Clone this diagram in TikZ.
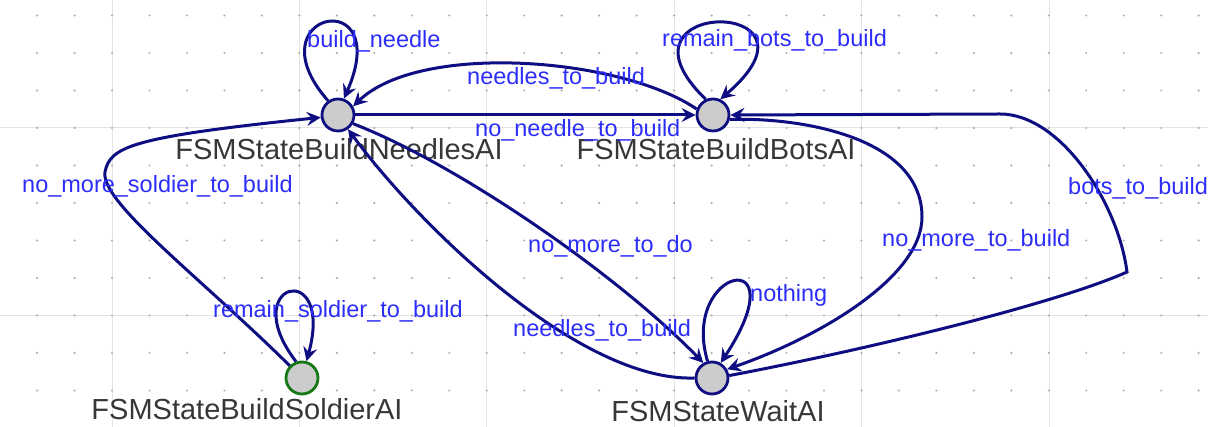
\documentclass[tikz,border=0pt]{standalone}
\usepackage{fontspec}
\setmainfont{Liberation Sans}
\usetikzlibrary{arrows.meta}

\definecolor{fsmedge}{RGB}{14,14,130}
\definecolor{fsmgreen}{RGB}{20,120,20}
\definecolor{fsmlabel}{RGB}{45,45,250}
\definecolor{fsmtext}{RGB}{55,55,55}
\definecolor{gridline}{RGB}{228,228,228}
\definecolor{griddot}{RGB}{175,175,175}

\tikzset{
  state/.style={circle, draw=fsmedge, fill=gray!40, line width=2.8pt,
    minimum size=32pt, inner sep=0pt},
  initstate/.style={state, draw=fsmgreen},
  statename/.style={text=fsmtext, font=\fontsize{29}{30}\selectfont,
    inner sep=0pt, anchor=base},
  trans/.style={draw=fsmedge, line width=3pt,
    -{Stealth[length=14pt,width=14pt,inset=5pt]}},
  guard/.style={text=fsmlabel, font=\fontsize{23.5}{25}\selectfont,
    inner sep=0pt, anchor=base west},
}

\begin{document}
\begin{tikzpicture}[x=1pt,y=1pt]
  \useasboundingbox (0,0) rectangle (1208,427);

  % editor grid
  \foreach \gx in {112,299.4,486.8,674.2,861.6,1049}
    \draw[gridline, line width=1pt] (\gx,0) -- (\gx,427);
  \foreach \gy in {299,111.5}
    \draw[gridline, line width=1pt] (0,\gy) -- (1208,\gy);
  \foreach \i in {0,...,31}
    \foreach \j in {0,...,10}
      \fill[griddot] ({37.1+\i*37.47},{411.5-\j*37.5}) circle (1.2pt);

  % states
  \node[state] (needles) at (338,312) {};
  \node[state] (bots) at (713,312) {};
  \node[initstate] (soldier) at (302,49) {};
  \node[state] (wait) at (712,49) {};

  \node[statename] (needlesname) at (339,267) {FSMStateBuildNeedlesAI};
  \node[statename] (botsname) at (716,267) {FSMStateBuildBotsAI};
  \node[statename] (soldiername) at (247,7) {FSMStateBuildSoldierAI};
  \node[statename] (waitname) at (718,5) {FSMStateWaitAI};

  % transitions out of the needles state
  \draw[trans] (needles.125) .. controls (250,415) and (395,445) .. (needles.70);
  \node[guard] (buildneedle) at (307,379) {build\_needle};

  \draw[trans] (needles) -- (bots);
  \node[guard] (noneedle) at (475,290) {no\_needle\_to\_build};

  \draw[trans] (needles.-30) .. controls (460,262) and (620,150) .. (wait.120);
  \node[guard] (nomoredo) at (528,174) {no\_more\_to\_do};

  % transitions out of the bots state
  \draw[trans] (bots.160) .. controls (620,370) and (420,385) .. (needles.30);
  \node[guard] (needlesup) at (467,342) {needles\_to\_build};

  \draw[trans] (bots.115) .. controls (600,430) and (840,430) .. (bots.65);
  \node[guard] (remainbots) at (662,380) {remain\_bots\_to\_build};

  \draw[trans] (bots.-15) .. controls (800,310) and (922,290) .. (922,210)
    .. controls (922,150) and (820,90) .. (wait.30);
  \node[guard] (nomorebuild) at (882,180) {no\_more\_to\_build};

  % transitions out of the soldier state
  \draw[trans] (soldier.135) .. controls (200,150) and (100,225) .. (105,255)
    .. controls (110,280) and (130,290) .. (needles.188);
  \node[guard] (nomoresoldier) at (22,234) {no\_more\_soldier\_to\_build};

  \draw[trans] (soldier.110) .. controls (235,145) and (335,170) .. (soldier.75);
  \node[guard] (remainsoldier) at (213,109) {remain\_soldier\_to\_build};

  % transitions out of the wait state
  \draw[trans] (wait.west) .. controls (580,45) and (420,200) .. (needles.-55);
  \node[guard] (needlesdown) at (513,90) {needles\_to\_build};

  \draw[trans] (wait.105) .. controls (680,160) and (800,185) .. (wait.60);
  \node[guard] (nothing) at (750,125) {nothing};

  \draw[trans] (wait.8) .. controls (880,80) and (1060,125) .. (1127,155)
    .. controls (1118,225) and (1060,313) .. (1000,313) -- (bots.east);
  \node[guard] (botstobuild) at (1068,232) {bots\_to\_build};
\end{tikzpicture}
\end{document}
